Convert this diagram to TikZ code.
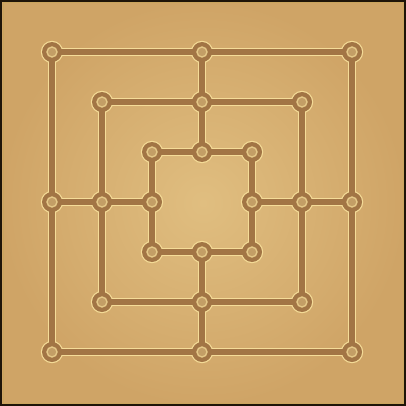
\documentclass[tikz,border=0pt]{standalone}
\begin{document}
\begin{tikzpicture}[x=1pt,y=-1pt,
  glow/.style={draw=boardglow,line width=8.4pt,line cap=butt},
  groove/.style={draw=boardline,line width=6pt,line cap=butt},
  ptglow/.style={fill=boardglow},
  ptbody/.style={fill=boardline},
  ptring/.style={draw=boardglow!80!boardline,line width=1.4pt,fill=boardline!60!boardglow}]
\definecolor{paper}{HTML}{E0BE80}
\definecolor{paperedge}{HTML}{CFA466}
\definecolor{boardline}{HTML}{A27545}
\definecolor{boardglow}{HTML}{F5DC98}
\definecolor{frameouter}{HTML}{1E1408}
\definecolor{framegold}{HTML}{C9A45C}
\useasboundingbox (0,0) rectangle (406,406);
\shade[inner color=paper,outer color=paperedge] (0,0) rectangle (406,406);
\draw[frameouter,line width=2.4pt] (1.2,1.2) rectangle (404.8,404.8);
\draw[framegold,line width=1pt] (3,3) rectangle (403,403);
% coordinates
\foreach \n/\d in {o/150,m/100,i/50}{
  \coordinate (\n1) at (202-\d,202-\d);
  \coordinate (\n2) at (202,202-\d);
  \coordinate (\n3) at (202+\d,202-\d);
  \coordinate (\n4) at (202+\d,202);
  \coordinate (\n5) at (202+\d,202+\d);
  \coordinate (\n6) at (202,202+\d);
  \coordinate (\n7) at (202-\d,202+\d);
  \coordinate (\n8) at (202-\d,202);
}
% glow layer
\foreach \n in {o,m,i}{\draw[glow] (\n1) -- (\n3) -- (\n5) -- (\n7) -- cycle;}
\draw[glow] (o2) -- (i2); \draw[glow] (o4) -- (i4);
\draw[glow] (o6) -- (i6); \draw[glow] (o8) -- (i8);
\foreach \n in {o,m,i}{\foreach \k in {1,...,8}{\fill[ptglow] (\n\k) circle (11.2);}}
% groove layer
\foreach \n in {o,m,i}{\draw[groove] (\n1) -- (\n3) -- (\n5) -- (\n7) -- cycle;}
\draw[groove] (o2) -- (i2); \draw[groove] (o4) -- (i4);
\draw[groove] (o6) -- (i6); \draw[groove] (o8) -- (i8);
\foreach \n in {o,m,i}{\foreach \k in {1,...,8}{
  \fill[ptbody] (\n\k) circle (10);
  \draw[ptring] (\n\k) circle (5);}}
\end{tikzpicture}
\end{document}
